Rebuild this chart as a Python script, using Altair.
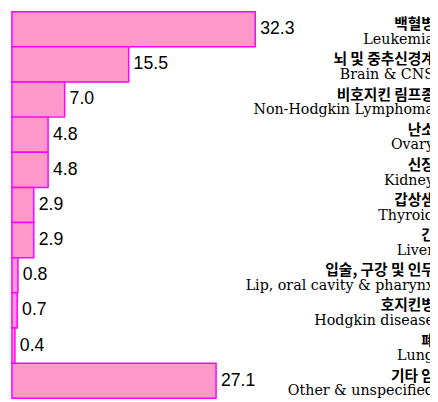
import altair as alt
import pandas as pd

labels_ko = ["백혈병", "뇌 및 중추신경계", "비호지킨 림프종", "난소", "신장", "갑상샘",
             "간", "입술, 구강 및 인두", "호지킨병", "폐", "기타 암"]
labels_en = ["Leukemia", "Brain & CNS", "Non-Hodgkin Lymphoma", "Ovary", "Kidney", "Thyroid",
             "Liver", "Lip, oral cavity & pharynx", "Hodgkin disease", "Lung", "Other & unspecified"]
values = [32.3, 15.5, 7.0, 4.8, 4.8, 2.9, 2.9, 0.8, 0.7, 0.4, 27.1]

df = pd.DataFrame({"ko": labels_ko, "en": labels_en, "value": values})
df["label"] = df["value"].map(lambda v: f"{v:.1f}")
order = labels_ko

y = alt.Y("ko:N", sort=order, axis=None,
          scale=alt.Scale(paddingInner=0, paddingOuter=0))
x = alt.X("value:Q", axis=None, scale=alt.Scale(domain=[0, 55.5], nice=False, zero=True))

base = alt.Chart(df)

bars = base.mark_bar(color="#FF99CC", stroke="#FF00FF", strokeWidth=1.5).encode(x=x, y=y)

vals = base.mark_text(align="left", baseline="middle", dx=5, fontSize=18,
                      font="Liberation Sans", color="#000000").encode(x=x, y=y, text="label:N")

ko = base.mark_text(align="right", baseline="middle", dy=-5, fontSize=15, fontWeight="bold",
                    font="Noto Sans CJK KR", color="#000000").encode(
    x=alt.value(431), y=y, text="ko:N")

en = base.mark_text(align="right", baseline="middle", dy=11, fontSize=14.5,
                    font="DejaVu Serif", color="#000000").encode(
    x=alt.value(430), y=y, text="en:N")

chart = alt.layer(bars, vals, ko, en).properties(
    width=426, height=394,
    autosize=alt.AutoSizeParams(type="none"),
    padding={"left": 4, "top": 0, "right": 0, "bottom": 0},
).configure_view(stroke=None)

chart.save("out.html", embed_options={"renderer": "svg", "actions": False})
